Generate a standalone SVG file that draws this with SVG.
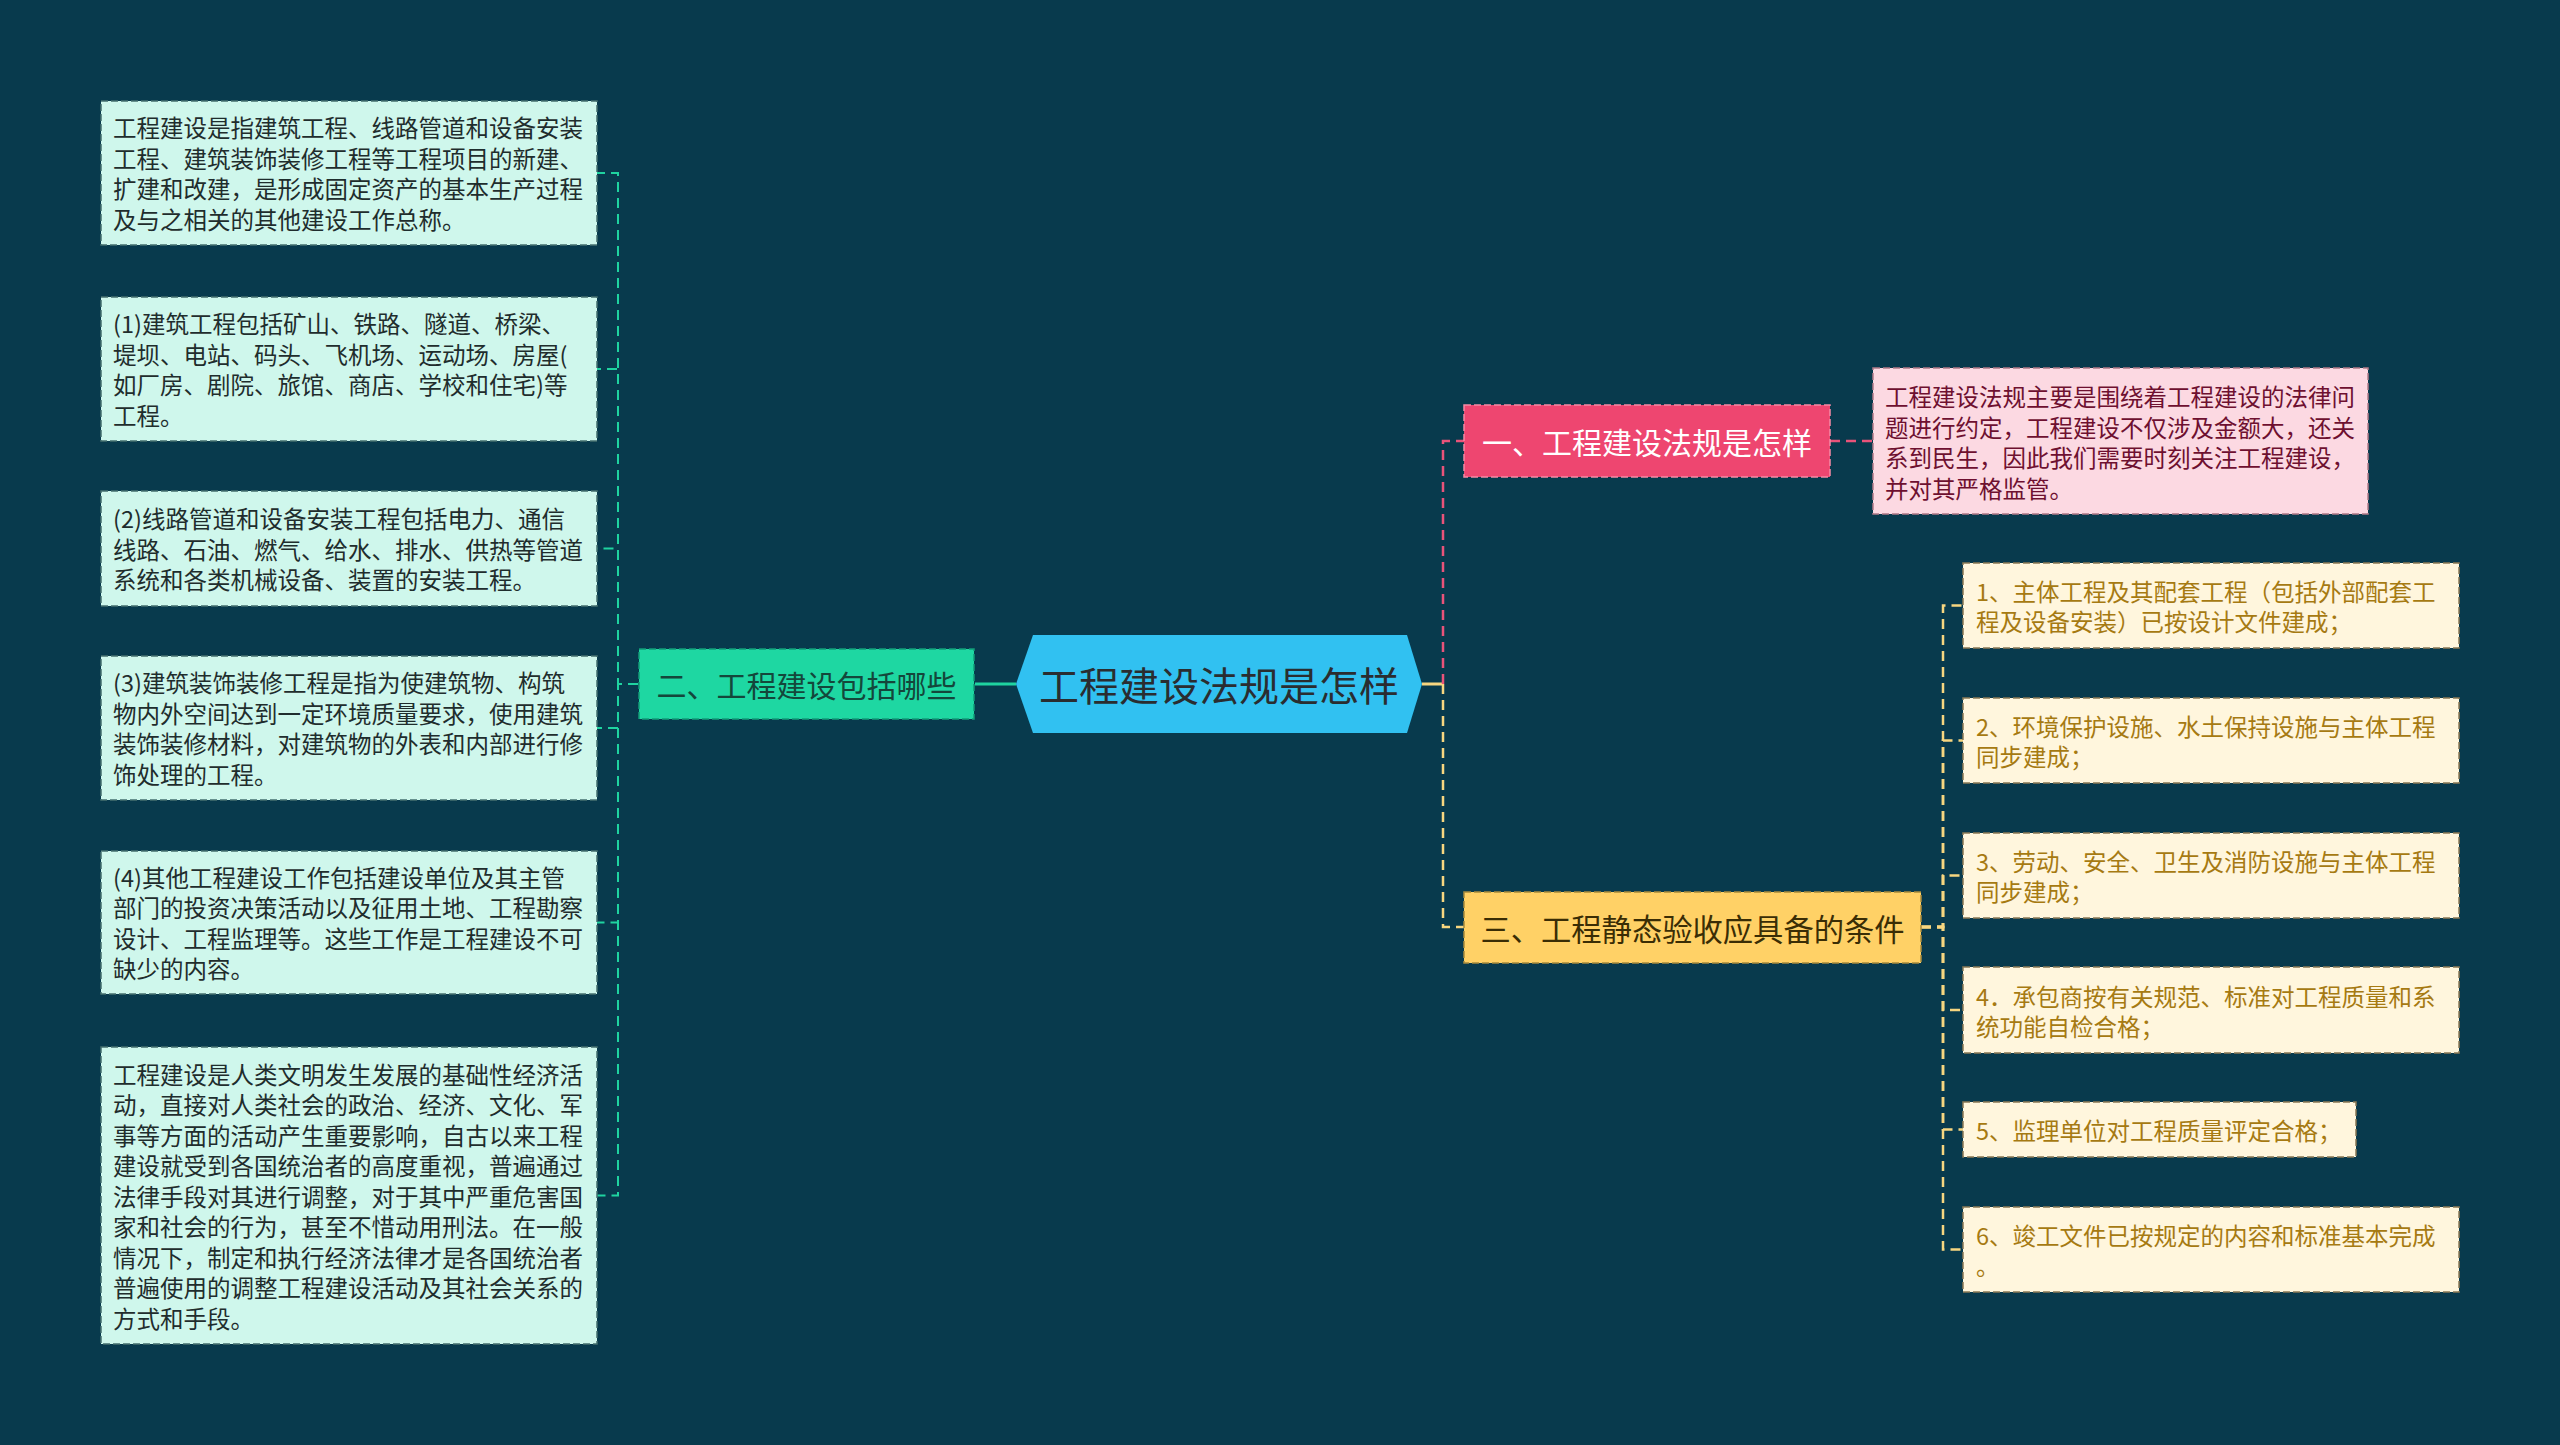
<svg xmlns="http://www.w3.org/2000/svg" width="2560" height="1445" viewBox="0 0 2560 1445">
<style>
text{font-family:"Noto Sans CJK SC","Noto Sans",sans-serif;dominant-baseline:central}
.dl{fill:#cff7ec;stroke:#45706f;stroke-width:1.5;stroke-dasharray:7 3}
.dlt{font-size:23.5px;fill:#1f2d2d}
.dp{fill:#fcd9e2;stroke:#b07a88;stroke-width:1.5;stroke-dasharray:7 3}
.dpt{font-size:23.5px;fill:#6e1030}
.dy{fill:#fff6dd;stroke:#8a7a55;stroke-width:1.5;stroke-dasharray:7 3}
.dyt{font-size:23.5px;fill:#a67a12}
.cg{fill:none;stroke:#1fd3a0;stroke-width:2;stroke-dasharray:10 6}
.cp{fill:none;stroke:#e9537a;stroke-width:2.5;stroke-dasharray:10 6}
.cy{fill:none;stroke:#f7d680;stroke-width:2.5;stroke-dasharray:10 6}
</style>
<rect width="2560" height="1445" fill="#083a4d"/>
<g id="connectors">
<line x1="975" y1="684" x2="1016" y2="684" stroke="#1fd3a0" stroke-width="3"/>
<line x1="1422" y1="684" x2="1443" y2="684" stroke="#f7d680" stroke-width="3"/>
<path class="cp" d="M1443 684 V441 H1464"/>
<path class="cy" d="M1443 684 V927 H1464"/>
<path class="cp" d="M1830 441 H1873"/>
<path class="cg" d="M638 684 H618 V173 H597"/>
<path class="cg" d="M638 684 H618 V369 H597"/>
<path class="cg" d="M638 684 H618 V548.5 H597"/>
<path class="cg" d="M638 684 H618 V728 H597"/>
<path class="cg" d="M638 684 H618 V922.5 H597"/>
<path class="cg" d="M638 684 H618 V1195.5 H597"/>
<path class="cy" d="M1921 927 H1943 V605.5 H1963"/>
<path class="cy" d="M1921 927 H1943 V740.5 H1963"/>
<path class="cy" d="M1921 927 H1943 V875.5 H1963"/>
<path class="cy" d="M1921 927 H1943 V1010 H1963"/>
<path class="cy" d="M1921 927 H1943 V1129.5 H1963"/>
<path class="cy" d="M1921 927 H1943 V1249.5 H1963"/>
</g>
<g id="root">
<polygon points="1016,684 1033,635 1407,635 1422,684 1407,733 1033,733" fill="#31c1f1"/>
<text x="1219" y="684" text-anchor="middle" font-size="40" fill="#2a2d30">工程建设法规是怎样</text>
</g>
<g id="n2">
<rect x="639" y="649" width="335" height="70" fill="#1ed7a2" stroke="#129c78" stroke-width="1.5" stroke-dasharray="7 3"/>
<text x="806.5" y="684" text-anchor="middle" font-size="30" fill="#14473b">二、工程建设包括哪些</text>
</g>
<g id="n1">
<rect x="1464" y="405" width="366" height="72" fill="#ee4670" stroke="#f58aa5" stroke-width="1.5" stroke-dasharray="7 3"/>
<text x="1647" y="441" text-anchor="middle" font-size="30" fill="#ffffff">一、工程建设法规是怎样</text>
</g>
<g id="n3">
<rect x="1464" y="892" width="457" height="71" fill="#ffd166" stroke="#a88a3c" stroke-width="1.5" stroke-dasharray="7 3"/>
<text x="1692.5" y="927.5" text-anchor="middle" font-size="30.3" fill="#3a2d05">三、工程静态验收应具备的条件</text>
</g>
<g id="l1">
<rect class="dl" x="101" y="101" width="496" height="144"/>
<text class="dlt" x="113"><tspan x="113" y="127.25">工程建设是指建筑工程、线路管道和设备安装</tspan><tspan x="113" y="157.75">工程、建筑装饰装修工程等工程项目的新建、</tspan><tspan x="113" y="188.25">扩建和改建，是形成固定资产的基本生产过程</tspan><tspan x="113" y="218.75">及与之相关的其他建设工作总称。</tspan></text>
</g>
<g id="l2">
<rect class="dl" x="101" y="297" width="496" height="144"/>
<text class="dlt" x="113"><tspan x="113" y="323.25">(1)建筑工程包括矿山、铁路、隧道、桥梁、</tspan><tspan x="113" y="353.75">堤坝、电站、码头、飞机场、运动场、房屋(</tspan><tspan x="113" y="384.25">如厂房、剧院、旅馆、商店、学校和住宅)等</tspan><tspan x="113" y="414.75">工程。</tspan></text>
</g>
<g id="l3">
<rect class="dl" x="101" y="491" width="496" height="115"/>
<text class="dlt" x="113"><tspan x="113" y="518">(2)线路管道和设备安装工程包括电力、通信</tspan><tspan x="113" y="548.5">线路、石油、燃气、给水、排水、供热等管道</tspan><tspan x="113" y="579">系统和各类机械设备、装置的安装工程。</tspan></text>
</g>
<g id="l4">
<rect class="dl" x="101" y="656" width="496" height="144"/>
<text class="dlt" x="113"><tspan x="113" y="682.25">(3)建筑装饰装修工程是指为使建筑物、构筑</tspan><tspan x="113" y="712.75">物内外空间达到一定环境质量要求，使用建筑</tspan><tspan x="113" y="743.25">装饰装修材料，对建筑物的外表和内部进行修</tspan><tspan x="113" y="773.75">饰处理的工程。</tspan></text>
</g>
<g id="l5">
<rect class="dl" x="101" y="851" width="496" height="143"/>
<text class="dlt" x="113"><tspan x="113" y="876.75">(4)其他工程建设工作包括建设单位及其主管</tspan><tspan x="113" y="907.25">部门的投资决策活动以及征用土地、工程勘察</tspan><tspan x="113" y="937.75">设计、工程监理等。这些工作是工程建设不可</tspan><tspan x="113" y="968.25">缺少的内容。</tspan></text>
</g>
<g id="l6">
<rect class="dl" x="101" y="1047" width="496" height="297"/>
<text class="dlt" x="113"><tspan x="113" y="1073.5">工程建设是人类文明发生发展的基础性经济活</tspan><tspan x="113" y="1104">动，直接对人类社会的政治、经济、文化、军</tspan><tspan x="113" y="1134.5">事等方面的活动产生重要影响，自古以来工程</tspan><tspan x="113" y="1165">建设就受到各国统治者的高度重视，普遍通过</tspan><tspan x="113" y="1195.5">法律手段对其进行调整，对于其中严重危害国</tspan><tspan x="113" y="1226">家和社会的行为，甚至不惜动用刑法。在一般</tspan><tspan x="113" y="1256.5">情况下，制定和执行经济法律才是各国统治者</tspan><tspan x="113" y="1287">普遍使用的调整工程建设活动及其社会关系的</tspan><tspan x="113" y="1317.5">方式和手段。</tspan></text>
</g>
<g id="p1">
<rect class="dp" x="1873" y="368" width="495" height="146"/>
<text class="dpt" x="1885"><tspan x="1885" y="396">工程建设法规主要是围绕着工程建设的法律问</tspan><tspan x="1885" y="426.5">题进行约定，工程建设不仅涉及金额大，还关</tspan><tspan x="1885" y="457">系到民生，因此我们需要时刻关注工程建设，</tspan><tspan x="1885" y="487.5">并对其严格监管。</tspan></text>
</g>
<g id="y1">
<rect class="dy" x="1963" y="563" width="496" height="85"/>
<text class="dyt" x="1976"><tspan x="1976" y="591">1、主体工程及其配套工程（包括外部配套工</tspan><tspan x="1976" y="621">程及设备安装）已按设计文件建成；</tspan></text>
</g>
<g id="y2">
<rect class="dy" x="1963" y="698" width="496" height="85"/>
<text class="dyt" x="1976"><tspan x="1976" y="726">2、环境保护设施、水土保持设施与主体工程</tspan><tspan x="1976" y="756">同步建成；</tspan></text>
</g>
<g id="y3">
<rect class="dy" x="1963" y="833" width="496" height="85"/>
<text class="dyt" x="1976"><tspan x="1976" y="861">3、劳动、安全、卫生及消防设施与主体工程</tspan><tspan x="1976" y="891">同步建成；</tspan></text>
</g>
<g id="y4">
<rect class="dy" x="1963" y="967" width="496" height="86"/>
<text class="dyt" x="1976"><tspan x="1976" y="995.5">4．承包商按有关规范、标准对工程质量和系</tspan><tspan x="1976" y="1025.5">统功能自检合格；</tspan></text>
</g>
<g id="y5">
<rect class="dy" x="1963" y="1102" width="393" height="55"/>
<text class="dyt" x="1976" y="1129.5">5、监理单位对工程质量评定合格；</text>
</g>
<g id="y6">
<rect class="dy" x="1963" y="1207" width="496" height="85"/>
<text class="dyt" x="1976"><tspan x="1976" y="1235">6、竣工文件已按规定的内容和标准基本完成</tspan><tspan x="1976" y="1265">。</tspan></text>
</g>
</svg>
